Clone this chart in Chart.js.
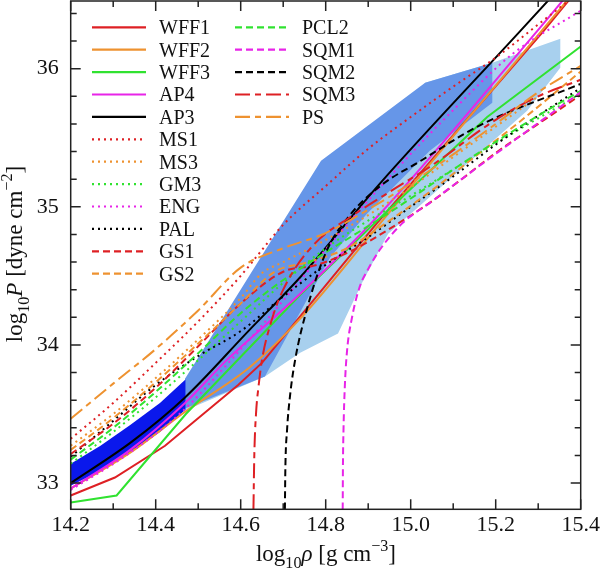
<!DOCTYPE html>
<html>
<head>
<meta charset="utf-8">
<script src="https://cdn.jsdelivr.net/npm/chart.js@4.4.0/dist/chart.umd.min.js"></script>
<style>
  html, body { margin: 0; padding: 0; background: #fff; }
  #wrap { width: 600px; height: 571px; }
</style>
</head>
<body>
<div id="wrap"><canvas id="eosChart" width="600" height="571"></canvas></div>
<script>
// tick labels
const xTickLabels = ['14.2', '14.4', '14.6', '14.8', '15.0', '15.2', '15.4'];
const yTickLabels = ['33', '34', '35', '36'];

// shaded constraint regions, [log rho, log P]
const bandDark = [[14.2, 33.14], [14.27, 33.27], [14.34, 33.42], [14.41, 33.58], [14.47, 33.75],
  [14.47, 33.53], [14.41, 33.37], [14.34, 33.22], [14.27, 33.09], [14.2, 32.98]];
const bandMid = [[14.469, 33.756], [14.789, 35.333], [15.034, 35.898], [15.192, 36.043], [15.192, 35.753],
  [15.045, 35.405], [14.897, 34.95], [14.81, 34.632], [14.657, 33.771], [14.469, 33.54]];
const bandLight = [[14.469, 33.525], [14.657, 33.771], [14.74, 33.944], [14.829, 34.082], [14.888, 34.465],
  [14.947, 34.805], [15.274, 35.695], [15.352, 36.006], [15.352, 36.216], [15.192, 36.043],
  [15.034, 35.898], [14.469, 33.756]];

// equations of state, [log rho, log P]
const WFF1 = [[14.2, 32.91], [14.304, 33.04], [14.422, 33.27], [14.594, 33.71], [14.65, 33.87], [14.92, 34.88], [15.312, 36.27], [15.4, 36.6]];
const WFF2 = [[14.2, 32.96], [14.34, 33.22], [14.471, 33.52], [14.622, 33.84], [14.74, 34.19], [14.928, 34.88], [15.304, 36.26], [15.4, 36.61]];
const WFF3 = [[14.2, 32.86], [14.308, 32.91], [14.471, 33.5], [14.739, 34.36], [14.928, 34.92], [15.18, 35.65], [15.4, 36.16]];
const AP4 = [[14.2, 32.96], [14.34, 33.24], [14.469, 33.58], [14.567, 33.89], [14.74, 34.37], [14.928, 34.95], [15.297, 36.27], [15.4, 36.65]];
const AP3 = [[14.2, 33.0], [14.344, 33.3], [14.469, 33.62], [14.618, 34.1], [14.74, 34.49], [14.928, 35.17], [15.257, 36.27], [15.4, 36.75]];
const MS1 = [[14.2, 33.32], [14.3, 33.58], [14.4, 33.87], [14.5, 34.17], [14.6, 34.5], [14.7, 34.87], [14.8, 35.15], [14.9, 35.42], [15.0, 35.65], [15.1, 35.87], [15.2, 36.08], [15.3, 36.32], [15.4, 36.56]];
const MS3 = [[14.2, 33.27], [14.3, 33.5], [14.4, 33.76], [14.5, 34.04], [14.6, 34.34], [14.65, 34.52], [14.7, 34.6], [14.8, 34.76], [14.9, 34.94], [15.0, 35.14], [15.1, 35.36], [15.2, 35.58], [15.3, 35.8]];
const GM3 = [[14.2, 33.14], [14.3, 33.37], [14.4, 33.62], [14.5, 33.89], [14.6, 34.17], [14.7, 34.45], [14.8, 34.7], [14.9, 34.9], [15.0, 35.08], [15.1, 35.27], [15.2, 35.46], [15.3, 35.64], [15.4, 35.82]];
const ENG = [[14.2, 32.95], [14.33, 33.2], [14.456, 33.5], [14.58, 33.9], [14.708, 34.35], [14.83, 34.8], [14.951, 35.22], [15.1, 35.7], [15.241, 36.11], [15.4, 36.42]];
const PAL = [[14.2, 33.19], [14.3, 33.45], [14.4, 33.71], [14.5, 33.92], [14.6, 34.1], [14.7, 34.35], [14.8, 34.58], [14.9, 34.78], [15.0, 35.0], [15.1, 35.22], [15.2, 35.45], [15.3, 35.66], [15.4, 35.86]];
const GS1 = [[14.2, 33.21], [14.3, 33.43], [14.4, 33.69], [14.5, 33.99], [14.6, 34.3], [14.7, 34.53], [14.78, 34.58], [14.86, 34.68], [14.95, 34.84], [15.05, 35.04], [15.12, 35.2], [15.2, 35.39], [15.3, 35.6], [15.4, 35.81]];
const GS2 = [[14.2, 33.24], [14.3, 33.47], [14.4, 33.73], [14.5, 34.01], [14.6, 34.3], [14.68, 34.53], [14.76, 34.6], [14.85, 34.7], [14.95, 34.9], [15.05, 35.12], [15.15, 35.36], [15.25, 35.6], [15.4, 35.98]];
const PCL2 = [[14.2, 33.17], [14.3, 33.4], [14.4, 33.66], [14.5, 33.94], [14.6, 34.23], [14.7, 34.47], [14.8, 34.67], [14.9, 34.86], [15.0, 35.06], [15.1, 35.27], [15.2, 35.47], [15.3, 35.66], [15.4, 35.84]];
const SQM1 = [[14.84, 32.81], [14.8405, 33.1], [14.842, 33.4], [14.845, 33.7], [14.85, 33.95], [14.862, 34.2], [14.88, 34.42], [14.9, 34.55], [14.93, 34.7], [14.98, 34.88], [15.05, 35.04], [15.15, 35.27], [15.27, 35.54], [15.4, 35.83]];
const SQM2 = [[14.704, 32.81], [14.705, 33.09], [14.709, 33.38], [14.716, 33.63], [14.728, 33.89], [14.755, 34.25], [14.802, 34.68], [14.857, 34.94], [14.928, 35.15], [15.022, 35.33], [15.163, 35.59], [15.4, 35.89]];
const SQM3 = [[14.63, 32.81], [14.632, 33.2], [14.636, 33.5], [14.642, 33.7], [14.65, 33.89], [14.67, 34.15], [14.7, 34.4], [14.77, 34.72], [14.865, 34.94], [14.967, 35.14], [15.05, 35.3], [15.2, 35.63], [15.3, 35.8], [15.4, 35.92]];
const PS = [[14.2, 33.465], [14.3, 33.72], [14.4, 33.97], [14.5, 34.25], [14.6, 34.56], [14.7, 34.7], [14.8, 34.81], [14.9, 34.98], [15.0, 35.17], [15.1, 35.38], [15.2, 35.6], [15.3, 35.83], [15.4, 36.02]];

const legendCol1 = ['WFF1', 'WFF2', 'WFF3', 'AP4', 'AP3', 'MS1', 'MS3', 'GM3', 'ENG', 'PAL', 'GS1', 'GS2'];
const legendCol2 = ['PCL2', 'SQM1', 'SQM2', 'SQM3', 'PS'];

const curveData = { WFF1, WFF2, WFF3, AP4, AP3, MS1, MS3, GM3, ENG, PAL, GS1, GS2, PCL2, SQM1, SQM2, SQM3, PS };

const RED = 'rgb(222,32,36)';
const ORANGE = 'rgb(238,146,48)';
const GREEN = 'rgb(48,226,48)';
const MAGENTA = 'rgb(232,36,232)';
const BLACK = '#000';
const SOLID = [], DOT = [2, 4], DASH = [7, 4], DASHDOT = [15, 5, 6, 5];

const curveStyle = {
  WFF1: { color: RED, dash: SOLID, smooth: false },
  WFF2: { color: ORANGE, dash: SOLID },
  WFF3: { color: GREEN, dash: SOLID, smooth: false },
  AP4: { color: MAGENTA, dash: SOLID },
  AP3: { color: BLACK, dash: SOLID },
  MS1: { color: RED, dash: DOT },
  MS3: { color: ORANGE, dash: DOT },
  GM3: { color: GREEN, dash: DOT },
  ENG: { color: MAGENTA, dash: DOT },
  PAL: { color: BLACK, dash: DOT },
  GS1: { color: RED, dash: DASH },
  GS2: { color: ORANGE, dash: DASH },
  PCL2: { color: GREEN, dash: DASH },
  SQM1: { color: MAGENTA, dash: DASH },
  SQM2: { color: BLACK, dash: DASH },
  SQM3: { color: RED, dash: DASHDOT },
  PS: { color: ORANGE, dash: DASHDOT }
};

const SERIF = '"Liberation Serif", "DejaVu Serif", serif';

const toXY = pts => pts.map(([x, y]) => ({ x, y }));

function region(pts, color, order) {
  return {
    data: toXY(pts), showLine: true, fill: 'shape', backgroundColor: color,
    borderColor: color, borderWidth: 0, pointRadius: 0, tension: 0, order
  };
}

const datasets = [
  region(bandLight, 'rgb(168,208,238)', 100),
  region(bandMid, 'rgb(102,150,232)', 99),
  region(bandDark, 'rgb(10,24,236)', 98)
];

Object.keys(curveData).forEach((name, i) => {
  const st = curveStyle[name];
  datasets.push({
    label: name,
    data: toXY(curveData[name]),
    showLine: true,
    fill: false,
    borderColor: st.color,
    borderWidth: 2,
    borderDash: st.dash,
    pointRadius: 0,
    cubicInterpolationMode: st.smooth === false ? 'default' : 'monotone',
    tension: 0,
    clip: 0,
    order: 50 - i
  });
});

function richText(ctx, parts, size) {
  let w = 0;
  const items = parts.map(p => {
    const fs = (p.sub || p.sup) ? size * 0.7 : size;
    const font = (p.it ? 'italic ' : '') + fs + 'px ' + SERIF;
    ctx.font = font;
    const pw = ctx.measureText(p.t).width;
    w += pw;
    return { t: p.t, font, w: pw, dy: p.sub ? size * 0.3 : p.sup ? -size * 0.42 : 0 };
  });
  return { items, w };
}

function drawRich(ctx, parts, size, cx, cy, rot) {
  const { items, w } = richText(ctx, parts, size);
  ctx.save();
  ctx.translate(cx, cy);
  if (rot) ctx.rotate(rot);
  ctx.fillStyle = '#111';
  ctx.textBaseline = 'alphabetic';
  ctx.textAlign = 'left';
  let x = -w / 2;
  items.forEach(it => {
    ctx.font = it.font;
    ctx.fillText(it.t, x, it.dy);
    x += it.w;
  });
  ctx.restore();
}

const frameAndTicks = {
  id: 'frameAndTicks',
  afterDraw(chart) {
    const { ctx, chartArea: a, scales: { x, y } } = chart;
    ctx.save();
    ctx.strokeStyle = '#222';
    ctx.lineWidth = 1.5;
    ctx.setLineDash([]);
    ctx.strokeRect(a.left, a.top, a.right - a.left, a.bottom - a.top);
    ctx.beginPath();
    x.ticks.forEach(t => {
      const px = x.getPixelForValue(t.value);
      const len = Math.round(t.value * 10) % 2 === 0 ? 10 : 6;
      ctx.moveTo(px, a.bottom); ctx.lineTo(px, a.bottom - len);
      ctx.moveTo(px, a.top); ctx.lineTo(px, a.top + len);
    });
    y.ticks.forEach(t => {
      const py = y.getPixelForValue(t.value);
      const len = Math.abs(t.value - Math.round(t.value)) < 1e-6 ? 10 : 6;
      ctx.moveTo(a.left, py); ctx.lineTo(a.left + len, py);
      ctx.moveTo(a.right, py); ctx.lineTo(a.right - len, py);
    });
    ctx.stroke();

    // legend
    const rowH = 22.4, top = 27.3;
    const drawEntry = (name, row, x0, x1, tx) => {
      const st = curveStyle[name];
      const yy = top + row * rowH;
      ctx.strokeStyle = st.color;
      ctx.lineWidth = 2.2;
      ctx.setLineDash(st.dash);
      ctx.beginPath();
      ctx.moveTo(x0, yy); ctx.lineTo(x1, yy);
      ctx.stroke();
      ctx.setLineDash([]);
      ctx.fillStyle = '#111';
      ctx.font = '20px ' + SERIF;
      ctx.textBaseline = 'alphabetic';
      ctx.textAlign = 'left';
      ctx.fillText(name, tx, yy + 6.8);
    };
    legendCol1.forEach((n, i) => drawEntry(n, i, 92, 146, 159));
    legendCol2.forEach((n, i) => drawEntry(n, i, 235, 289, 302));

    // axis titles
    drawRich(ctx, [{ t: 'log' }, { t: '10', sub: true }, { t: 'ρ', it: true }, { t: ' [g cm' }, { t: '−3', sup: true }, { t: ']' }], 23, 326, 561, 0);
    drawRich(ctx, [{ t: 'log' }, { t: '10', sub: true }, { t: 'P', it: true }, { t: ' [dyne cm' }, { t: '−2', sup: true }, { t: ']' }], 23, 22, 254, -Math.PI / 2);
    ctx.restore();
  }
};

new Chart(document.getElementById('eosChart'), {
  type: 'scatter',
  data: { datasets },
  options: {
    responsive: false,
    animation: false,
    events: [],
    devicePixelRatio: 1,
    layout: { padding: { left: 0, right: 19.3, top: 1, bottom: 0 } },
    plugins: { legend: { display: false }, tooltip: { enabled: false } },
    scales: {
      x: {
        type: 'linear', min: 14.2, max: 15.4,
        grid: { display: false, drawTicks: false },
        border: { display: false },
        afterBuildTicks(scale) {
          const out = [];
          for (let k = 142; k <= 154; k++) out.push({ value: k / 10 });
          scale.ticks = out;
        },
        afterFit(scale) {
          scale.height = 61.7;
          scale.paddingLeft = 0; scale.paddingRight = 0;
          scale.paddingTop = 0; scale.paddingBottom = 0;
        },
        ticks: {
          autoSkip: false, maxRotation: 0, padding: 3, color: '#111',
          font: { family: SERIF, size: 22 },
          callback: v => xTickLabels.find(s => Math.abs(parseFloat(s) - v) < 1e-6) || ''
        }
      },
      y: {
        type: 'linear', min: 32.81, max: 36.49,
        grid: { display: false, drawTicks: false },
        border: { display: false },
        afterBuildTicks(scale) {
          const out = [];
          for (let k = 165; k <= 182; k++) out.push({ value: k / 5 });
          scale.ticks = out;
        },
        afterFit(scale) {
          scale.width = 70.7;
          scale.paddingLeft = 0; scale.paddingRight = 0;
          scale.paddingTop = 0; scale.paddingBottom = 0;
        },
        ticks: {
          autoSkip: false, padding: 12, color: '#111',
          font: { family: SERIF, size: 22 },
          callback: v => yTickLabels.find(s => Math.abs(parseFloat(s) - v) < 1e-6) || ''
        }
      }
    }
  },
  plugins: [frameAndTicks]
});
</script>
</body>
</html>
